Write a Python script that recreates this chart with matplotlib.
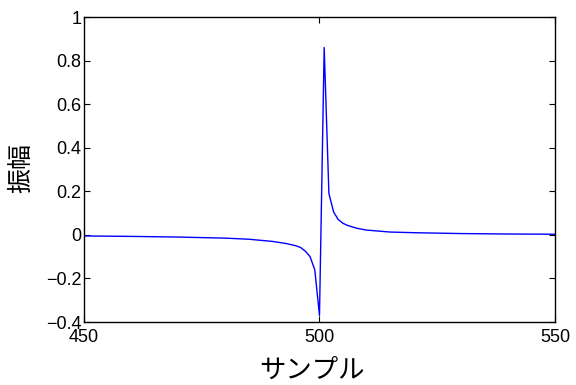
import matplotlib
matplotlib.use('Agg')
import matplotlib.pyplot as plt

# values
samples = [450, 460, 470, 480, 485, 490, 493, 495, 496, 497, 498, 499, 500,
           501, 502, 503, 504, 505, 506, 508, 510, 515, 520, 530, 540, 550]
amplitude = [-0.005, -0.007, -0.010, -0.015, -0.020, -0.030, -0.040, -0.050,
             -0.058, -0.075, -0.10, -0.16, -0.37,
             0.86, 0.19, 0.105, 0.07, 0.053, 0.043, 0.030, 0.022, 0.013,
             0.010, 0.006, 0.004, 0.003]

xticks = [450, 500, 550]
yticks = [-0.4, -0.2, 0, 0.2, 0.4, 0.6, 0.8, 1]
ytick_labels = ['\u22120.4', '\u22120.2', '0', '0.2', '0.4', '0.6', '0.8', '1']
xlabel = 'サンプル'
ylabel = '振幅'

plt.rcParams['font.family'] = ['Liberation Sans', 'Noto Sans CJK JP', 'DejaVu Sans']

fig = plt.figure(figsize=(5.76, 3.85), dpi=100)
ax = fig.add_axes([0.1458, 0.1636, 0.8177, 0.7922])

ax.plot(samples, amplitude, color='#0000ff', linewidth=1.0)

ax.set_xlim(450, 550)
ax.set_ylim(-0.4, 1)
ax.set_xticks(xticks)
ax.set_xticklabels([str(t) for t in xticks])
ax.set_yticks(yticks)
ax.set_yticklabels(ytick_labels)

ax.tick_params(direction='in', length=4, width=0.8, top=True, right=True,
               labelsize=13)
ax.tick_params(axis='x', pad=5)
ax.tick_params(axis='y', pad=2)
for s in ax.spines.values():
    s.set_linewidth(1.0)

ax.set_xlabel(xlabel, fontsize=19, family=['Noto Sans CJK JP'], va='center')
ax.set_ylabel(ylabel, fontsize=18, family=['Noto Sans CJK JP'], va='center')
ax.xaxis.set_label_coords(0.484, -0.157)
ax.yaxis.set_label_coords(-0.134, 0.505)

fig.savefig('out.png', dpi=100)
